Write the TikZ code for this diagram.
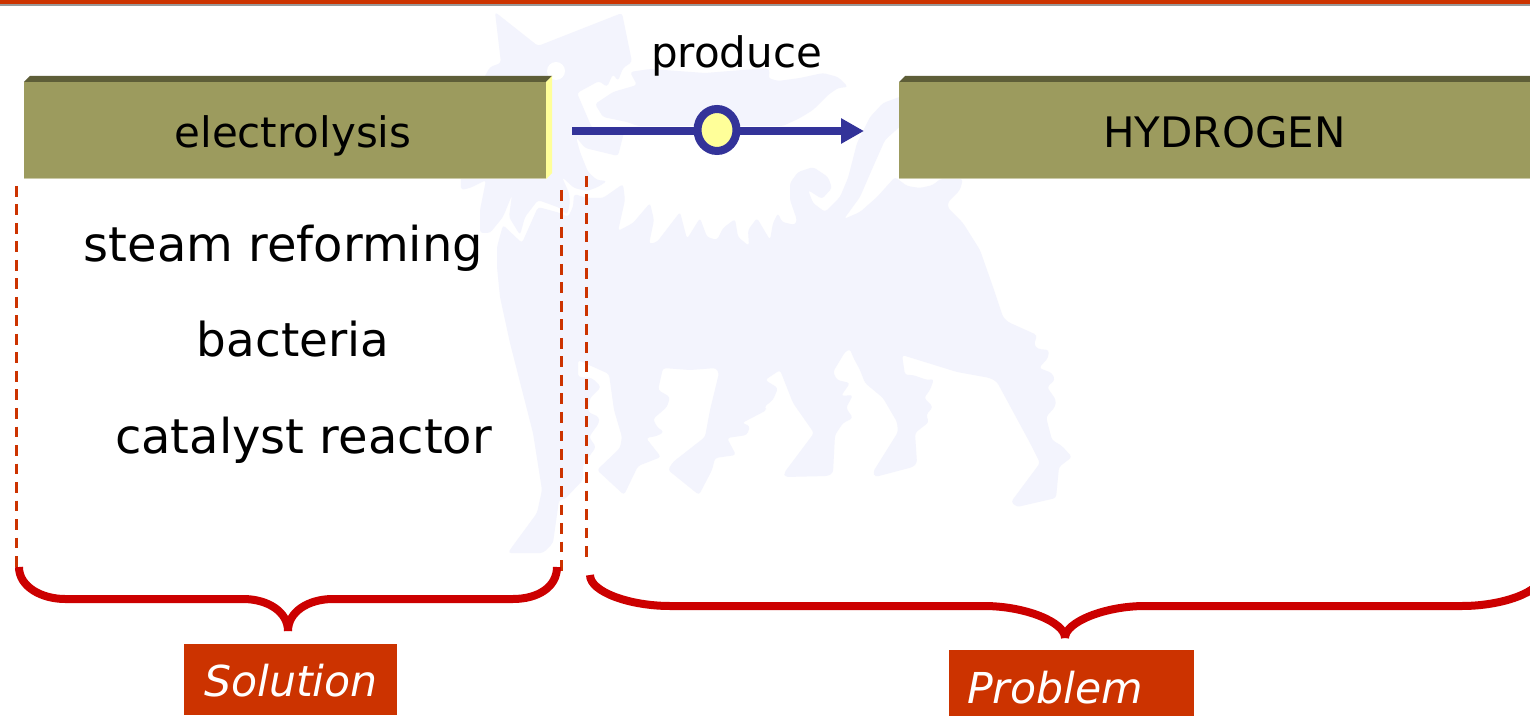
\documentclass[tikz,border=0pt]{standalone}
\usepackage{fontspec}
\setmainfont{DejaVu Sans}
\usetikzlibrary{arrows.meta,shapes.geometric}
\definecolor{barred}{HTML}{CC3300}
\definecolor{bargray}{HTML}{999999}
\definecolor{lionblue}{HTML}{F3F4FD}
\definecolor{boxolive}{HTML}{9C9B5E}
\definecolor{boxdark}{HTML}{5E5E38}
\definecolor{boxedge}{HTML}{CBCAA8}
\definecolor{boxlight}{HTML}{FFFF99}
\definecolor{linkblue}{HTML}{333399}
\definecolor{bracered}{HTML}{CC0000}
\tikzset{
  lion/.style={fill=lionblue,rounded corners=1.5pt},
  titlebox/.style={rectangle,fill=boxolive,inner sep=0pt,outer sep=0pt,minimum height=48.5pt},
  titletext/.style={anchor=base,inner sep=0pt,font=\fontsize{21}{25}\selectfont},
  listtext/.style={anchor=base,inner sep=0pt,font=\fontsize{24}{29}\selectfont},
  tagbox/.style={rectangle,fill=barred,inner sep=0pt,outer sep=0pt},
  tagtext/.style={anchor=base,inner sep=0pt,text=white,font=\fontsize{21.3}{25}\selectfont\itshape},
  dashline/.style={draw=barred,line width=1.7pt,dash pattern=on 5.4pt off 3.85pt},
  brace/.style={draw=bracered,line width=4pt},
  linkline/.style={draw=linkblue,line width=4pt,-{Triangle[length=11.5pt,width=12pt]}},
  linkdot/.style={ellipse,draw=linkblue,fill=boxlight,line width=4pt,inner sep=0pt,minimum width=19.5pt,minimum height=21pt}
}
\begin{document}
\begin{tikzpicture}[x=0.5pt,y=-0.5pt]
\path[use as bounding box,fill=white] (0,0) rectangle (1530,716);
\fill[barred] (0,0) rectangle (1530,4);
\fill[bargray] (0,4) rectangle (1530,6);

\fill[lion] (495,12) -- (538,46) -- (622,13) -- (632,62) -- (623,68) -- (618,81) -- (613,74) -- (607,87) -- (599,81) -- (577,93)
  -- (592,128) -- (624,132) -- (618,156) -- (585,148) -- (576,137) -- (580,152) -- (588,172) -- (597,180) -- (607,181) -- (598,187)
  -- (587,191) -- (574,188) -- (562,177) -- (569,193) -- (570,203) -- (567,215) -- (560,208) -- (538,200) -- (525,217) -- (520,235)
  -- (509,217) -- (512,195) -- (503,217) -- (490,233) -- (480,233) -- (480,210) -- (486,180) -- (470,188) -- (461,190) -- (460,100)
  -- (480,85) -- (490,67) -- (501,63) -- cycle;
\fill[white] (556,71) circle (9);
\fill[lion] (595,104) -- (613,92) -- (637,85) -- (630,72) -- (650,69) -- (705,73) -- (768,68) -- (770,73) -- (768,78) -- (778,81)
  -- (800,78) -- (823,73) -- (838,77) -- (848,87) -- (838,88) -- (828,95) -- (813,110) -- (800,118) -- (783,126) -- (638,126)
  -- (627,122) -- (603,117) -- cycle;
\fill[lion] (522,243) -- (538,207) -- (560,213) -- (568,217) -- (573,207) -- (574,194) -- (587,198) -- (603,198) -- (623,184)
  -- (625,200) -- (618,231) -- (633,223) -- (650,203) -- (654,220) -- (649,244) -- (657,242) -- (680,212) -- (687,239) -- (700,218)
  -- (707,237) -- (717,240) -- (723,228) -- (735,219) -- (738,237) -- (749,246) -- (748,230) -- (757,218) -- (770,240) -- (773,223)
  -- (778,213) -- (782,222) -- (795,225) -- (797,220) -- (790,200) -- (790,183) -- (798,172) -- (813,167) -- (828,177) -- (832,188)
  -- (822,199) -- (808,190) -- (813,203) -- (825,212) -- (840,197) -- (848,178) -- (857,143) -- (870,117) -- (883,103) -- (905,95)
  -- (905,122) -- (885,140) -- (873,167) -- (860,197) -- (844,219) -- (860,212) -- (877,197) -- (895,177) -- (907,186) -- (920,188)
  -- (933,185) -- (940,179) -- (963,179) -- (960,190) -- (948,202) -- (948,208) -- (963,223) -- (980,250) -- (993,287) -- (1003,317)
  -- (1008,322) -- (1037,335) -- (1034,345) -- (1038,349) -- (1049,350) -- (1048,358) -- (1039,368) -- (1052,373) -- (1055,380)
  -- (1047,387) -- (1056,400) -- (1055,407) -- (1046,417) -- (1052,440) -- (1062,446) -- (1072,457) -- (1059,467) -- (1056,498)
  -- (1017,507) -- (1011,502) -- (1040,463) -- (1030,443) -- (997,382) -- (990,378) -- (957,372) -- (902,355) -- (905,375) -- (913,375)
  -- (927,380) -- (934,379) -- (930,390) -- (924,398) -- (933,407) -- (926,415) -- (929,422) -- (915,433) -- (917,463) -- (913,467)
  -- (875,477) -- (873,472) -- (898,432) -- (897,422) -- (883,398) -- (865,383) -- (860,370) -- (853,357) -- (850,349) -- (845,352)
  -- (833,372) -- (837,380) -- (850,383) -- (841,396) -- (853,395) -- (846,408) -- (853,418) -- (843,423) -- (835,435) -- (833,473)
  -- (828,476) -- (785,477) -- (784,473) -- (814,433) -- (793,403) -- (780,370) -- (765,380) -- (778,388) -- (773,400) -- (764,407)
  -- (767,410) -- (742,423) -- (750,426) -- (747,435) -- (727,438) -- (736,455) -- (715,458) -- (712,470) -- (699,495) -- (668,470)
  -- (673,462) -- (705,437) -- (710,410) -- (719,373) -- (716,368) -- (690,370) -- (663,368) -- (658,390) -- (670,397) -- (667,407)
  -- (653,419) -- (657,427) -- (664,432) -- (657,436) -- (646,438) -- (661,457) -- (638,466) -- (624,495) -- (597,470) -- (620,448)
  -- (622,437) -- (614,410) -- (609,374) -- (578,360) -- (578,377) -- (592,378) -- (601,387) -- (590,398) -- (588,412) -- (599,417)
  -- (599,423) -- (589,437) -- (596,447) -- (583,465) -- (583,480) -- (565,499) -- (559,500) -- (553,543) -- (543,553) -- (508,553)
  -- (512,547) -- (537,513) -- (542,490) -- (533,433) -- (522,390) -- (510,343) -- (500,297) -- (497,267) -- (497,247) -- (503,225) -- cycle;

\node[titlebox,minimum width=261pt] (electrolysisbox) at (285,130.5) {};
\fill[boxdark] (electrolysisbox.north west) -- ++(6,-6) -- ++(522,0) -- (electrolysisbox.north east) -- cycle;
\fill[boxlight] (electrolysisbox.north east) -- ++(6,-6) -- ++(0,97) -- (electrolysisbox.south east) -- cycle;
\draw[boxedge,line width=0.5pt] (electrolysisbox.south west) -- (electrolysisbox.south east);
\node[titletext] (electrolysis) at (293,148) {electrolysis};

\node[titlebox,minimum width=325.5pt] (hydrogenbox) at (1224.5,130.5) {};
\fill[boxdark] (hydrogenbox.north west) -- ++(6,-6) -- ++(651,0) -- (hydrogenbox.north east) -- cycle;
\draw[boxedge,line width=0.5pt] (hydrogenbox.south west) -- (hydrogenbox.south east);
\node[titletext] (hydrogen) at (1224.5,148) {HYDROGEN};

\coordinate (linkstart) at (572,131);
\coordinate (linkend) at (864,131);
\draw[linkline] (linkstart) -- (linkend);
\node[linkdot] (linkmark) at (717,130) {};
\node[titletext] (produce) at (736.5,68) {produce};

\node[listtext] (steam) at (283.5,262) {steam reforming};
\node[listtext,font=\fontsize{23.4}{29}\selectfont] (bacteria) at (293,357) {bacteria};
\node[listtext] (catalyst) at (303.5,453) {catalyst reactor};

\draw[dashline] (16.5,186) -- (16.5,567);
\draw[dashline] (561.5,190) -- (561.5,573);
\draw[dashline] (586.5,176) -- (586.5,560);

\draw[brace] (19,567) .. controls (19,587) and (42,599) .. (65,599) -- (243,599) .. controls (268,599) and (288,612) .. (288,631);
\draw[brace] (288,631) .. controls (288,612) and (308,599) .. (333,599) -- (513,599) .. controls (538,599) and (557,587) .. (557,567);
\draw[brace] (590,575) .. controls (590,592) and (630,606) .. (670,606) -- (984,606) .. controls (1025,606) and (1065,622) .. (1065,638);
\draw[brace] (1065,638) .. controls (1065,622) and (1105,606) .. (1145,606) -- (1462,606) .. controls (1502,606) and (1542,592) .. (1542,575);

\node[tagbox,minimum width=106.5pt,minimum height=35.5pt] (solutionbox) at (290.5,679.5) {};
\node[tagtext] (solution) at (291,696) {Solution};
\node[tagbox,minimum width=122.5pt,minimum height=38pt] (problembox) at (1071.5,688) {};
\node[tagtext] (problem) at (1055,703) {Problem};
\end{tikzpicture}
\end{document}
